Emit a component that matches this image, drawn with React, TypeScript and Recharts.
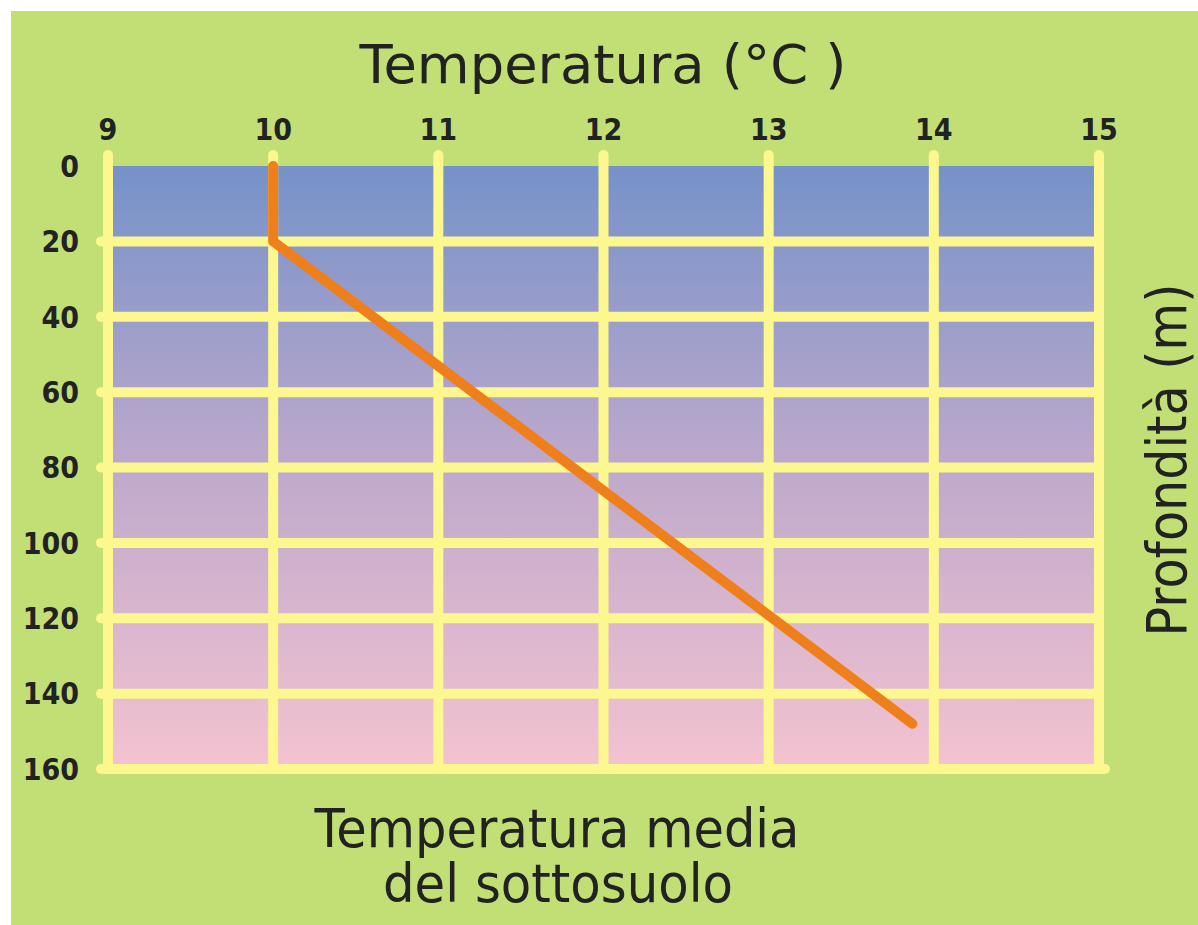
import React from 'react';
import { LineChart, Line, XAxis, YAxis, CartesianGrid } from 'recharts';

// temperature axis (°C) and depth axis (m)
const tempTicks = [9, 10, 11, 12, 13, 14, 15];
const depthTicks = [0, 20, 40, 60, 80, 100, 120, 140, 160];

// mean underground temperature profile
const temps = [10, 10, 13.87];
const depths = [0, 20, 148];

const profile = temps.map((t, i) => ({ temp: t, depth: depths[i] }));

const W = 1198;
const H = 925;
const GREEN = '#c2df75';
const GRID = '#fdf78f';
const ORANGE = '#ee7f1b';
const INK = '#222222';
const TICK_FONT = "'DejaVu Sans Condensed', 'DejaVu Sans', sans-serif";
const TITLE_FONT = "'DejaVu Sans', Verdana, sans-serif";

const XTick = (props: any) => (
    <text
        x={props.x}
        y={140}
        textAnchor="middle"
        fontFamily={TICK_FONT}
        fontWeight="bold"
        fontSize={30}
        fill={INK}
    >
        {props.payload.value}
    </text>
);

const YTick = (props: any) => (
    <text
        x={79}
        y={props.y}
        dy="0.36em"
        textAnchor="end"
        fontFamily={TICK_FONT}
        fontWeight="bold"
        fontSize={30}
        fill={INK}
    >
        {props.payload.value}
    </text>
);

// grid lines poke out a little past the plot: left stubs and top caps
const HLine = (props: any) => {
    if (props.index === 0) return <g key={props.key} />;
    const last = props.index === depthTicks.length - 1;
    return (
        <line
            key={props.key}
            x1={props.x1 - 7}
            x2={props.x2 + (last ? 6 : 0)}
            y1={props.y1}
            y2={props.y2}
            stroke={GRID}
            strokeWidth={10}
            strokeLinecap="round"
        />
    );
};

const VLine = (props: any) => (
    <line
        key={props.key}
        x1={props.x1}
        x2={props.x2}
        y1={props.y1 - 11}
        y2={props.y2}
        stroke={GRID}
        strokeWidth={10}
        strokeLinecap="round"
    />
);

const App: React.FC = () => {
    return (
        <div style={{ position: 'absolute', left: 0, top: 0, width: W, height: H, background: '#ffffff' }}>
            <div style={{ position: 'absolute', left: 11, top: 11, right: 0, bottom: 0, background: GREEN }} />
            <div style={{ position: 'absolute', left: 0, top: 0 }}>
                <LineChart
                    width={W}
                    height={H}
                    data={profile}
                    margin={{ top: 126, right: 99, bottom: 156, left: 0 }}
                >
                    <defs>
                        <linearGradient id="soilFill" x1="0" y1="0" x2="0" y2="1">
                            <stop offset="0%" stopColor="#7592c9" />
                            <stop offset="50%" stopColor="#bfa9cc" />
                            <stop offset="100%" stopColor="#f4c3d0" />
                        </linearGradient>
                    </defs>
                    <CartesianGrid
                        fill="url(#soilFill)"
                        fillOpacity={1}
                        horizontal={HLine}
                        vertical={VLine}
                    />
                    <XAxis
                        type="number"
                        dataKey="temp"
                        orientation="top"
                        domain={[9, 15]}
                        ticks={tempTicks}
                        height={40}
                        axisLine={false}
                        tickLine={false}
                        tick={XTick}
                        interval={0}
                    />
                    <YAxis
                        type="number"
                        domain={[0, 160]}
                        ticks={depthTicks}
                        reversed
                        width={108}
                        axisLine={false}
                        tickLine={false}
                        tick={YTick}
                        interval={0}
                    />
                    <Line
                        type="linear"
                        dataKey="depth"
                        stroke={ORANGE}
                        strokeWidth={10}
                        strokeLinecap="round"
                        strokeLinejoin="round"
                        dot={false}
                        activeDot={false}
                        isAnimationActive={false}
                    />
                </LineChart>
            </div>
            <svg
                width={W}
                height={H}
                style={{ position: 'absolute', left: 0, top: 0, pointerEvents: 'none' }}
                fontFamily={TITLE_FONT}
                fill={INK}
            >
                <text x={603} y={83} textAnchor="middle" fontSize={53} textLength={487} lengthAdjust="spacingAndGlyphs">
                    Temperatura (°C )
                </text>
                <text x={557} y={847} textAnchor="middle" fontSize={53} textLength={485} lengthAdjust="spacingAndGlyphs">
                    Temperatura media
                </text>
                <text x={558} y={902} textAnchor="middle" fontSize={53} textLength={350} lengthAdjust="spacingAndGlyphs">
                    del sottosuolo
                </text>
                <text
                    transform="translate(1186, 460) rotate(-90)"
                    textAnchor="middle"
                    fontSize={56}
                    textLength={353}
                    lengthAdjust="spacingAndGlyphs"
                >
                    Profondità (m)
                </text>
            </svg>
        </div>
    );
};

export default App;
